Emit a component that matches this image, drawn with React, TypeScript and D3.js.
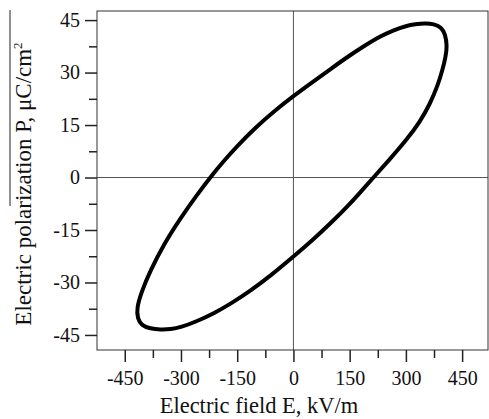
import React from "react";
import * as d3 from "d3";

// hysteresis loop (E in kV/m, P in uC/cm2), clockwise from the right tip
const fieldE = [410, 405, 394, 375, 350, 325, 302, 266, 230, 190, 150, 100, 50, 0, -50, -100, -150, -190, -220, -257, -302, -346, -382, -405, -418, -416, -405, -382, -355, -328, -300, -260, -213, -165, -115, -60, 0, 50, 100, 150, 182, 213, 257, 302, 337, 364, 385, 398, 406];
const polP = [37.6, 41.0, 43.0, 43.9, 44.1, 43.8, 43.4, 42.1, 40.3, 37.7, 34.9, 31.1, 27.2, 23.3, 19.1, 14.4, 9.0, 4.2, 0.3, -4.9, -11.7, -19.1, -26.7, -32.6, -37.2, -40.3, -42.3, -43.2, -43.5, -43.4, -42.8, -41.2, -38.9, -35.9, -32.4, -28.0, -22.6, -18.0, -13.0, -7.6, -3.8, 0, 5.2, 10.8, 15.8, 21.0, 26.3, 30.9, 34.5];

const xTicks = [-450, -300, -150, 0, 150, 300, 450];
const xMinor = [-375, -225, -75, 75, 225, 375];
const yTicks = [-45, -30, -15, 0, 15, 30, 45];
const yMinor = [-37.5, -22.5, -7.5, 7.5, 22.5, 37.5];

const W = 489, H = 419;
const margin = { left: 97, right: 1, top: 11, bottom: 69 };
const FONT = "'Liberation Serif', 'Times New Roman', serif";

export default function App() {
  const svgRef = React.useRef<SVGSVGElement>(null);

  React.useEffect(() => {
    const x = d3.scaleLinear().domain([-524, 519]).range([margin.left, W - margin.right]);
    const y = d3.scaleLinear().domain([-49.3, 47.6]).range([H - margin.bottom, margin.top]);

    const svg = d3.select(svgRef.current);
    svg.selectAll("*").remove();

    // crosshair through origin
    svg.append("line").attr("x1", x(0)).attr("x2", x(0)).attr("y1", y.range()[1]).attr("y2", y.range()[0])
      .attr("stroke", "#555").attr("stroke-width", 1);
    svg.append("line").attr("x1", x.range()[0]).attr("x2", x.range()[1]).attr("y1", y(0)).attr("y2", y(0))
      .attr("stroke", "#555").attr("stroke-width", 1);

    // frame
    svg.append("rect").attr("x", x.range()[0]).attr("y", y.range()[1])
      .attr("width", x.range()[1] - x.range()[0]).attr("height", y.range()[0] - y.range()[1])
      .attr("fill", "none").attr("stroke", "#333").attr("stroke-width", 1);

    const fmt = (d: d3.NumberValue) => String(d);

    // x axis
    const xAxis = d3.axisBottom(x).tickValues(xTicks).tickSize(12).tickPadding(9).tickSizeOuter(0).tickFormat(fmt);
    const xg = svg.append("g").attr("transform", `translate(0,${y.range()[0]})`).call(xAxis);
    xg.select(".domain").remove();
    xg.selectAll("line").attr("stroke", "#222").attr("stroke-width", 1.5);
    xg.selectAll("text").attr("font-family", FONT).attr("font-size", 20).attr("fill", "#111");
    const xm = d3.axisBottom(x).tickValues(xMinor).tickSize(8).tickFormat(() => "");
    const xmg = svg.append("g").attr("transform", `translate(0,${y.range()[0]})`).call(xm);
    xmg.select(".domain").remove();
    xmg.selectAll("line").attr("stroke", "#222").attr("stroke-width", 1.5);

    // y axis
    const yAxis = d3.axisLeft(y).tickValues(yTicks).tickSize(12).tickPadding(5).tickSizeOuter(0).tickFormat(fmt);
    const yg = svg.append("g").attr("transform", `translate(${x.range()[0]},0)`).call(yAxis);
    yg.select(".domain").remove();
    yg.selectAll("line").attr("stroke", "#222").attr("stroke-width", 1.5);
    yg.selectAll("text").attr("font-family", FONT).attr("font-size", 20).attr("fill", "#111");
    const ym = d3.axisLeft(y).tickValues(yMinor).tickSize(8).tickFormat(() => "");
    const ymg = svg.append("g").attr("transform", `translate(${x.range()[0]},0)`).call(ym);
    ymg.select(".domain").remove();
    ymg.selectAll("line").attr("stroke", "#222").attr("stroke-width", 1.5);

    // loop
    const pts: [number, number][] = fieldE.map((e, i) => [e, polP[i]]);
    const line = d3.line<[number, number]>()
      .x(d => x(d[0])).y(d => y(d[1]))
      .curve(d3.curveBasisClosed);
    svg.append("path").attr("d", line(pts)).attr("fill", "none")
      .attr("stroke", "#000").attr("stroke-width", 4).attr("stroke-linejoin", "round");

    // axis titles
    svg.append("text").attr("x", 259).attr("y", 413).attr("text-anchor", "middle")
      .attr("font-family", FONT).attr("font-size", 22.5).attr("fill", "#111")
      .text("Electric field E, kV/m");

    const yt = svg.append("text").attr("transform", "translate(31,184) rotate(-90)")
      .attr("text-anchor", "middle").attr("font-family", FONT).attr("font-size", 23).attr("fill", "#111");
    yt.append("tspan").text("Electric polarization P, \u03bcC/cm");
    yt.append("tspan").attr("dy", -9).attr("font-size", 13).text("2");

    // overline stroke beside the title
    svg.append("line").attr("x1", 10).attr("x2", 10).attr("y1", 10).attr("y2", 206)
      .attr("stroke", "#222").attr("stroke-width", 1);
  }, []);

  return (
    <svg ref={svgRef} width={W} height={H}
      style={{ position: "absolute", left: 0, top: 0, background: "#fff" }} />
  );
}
